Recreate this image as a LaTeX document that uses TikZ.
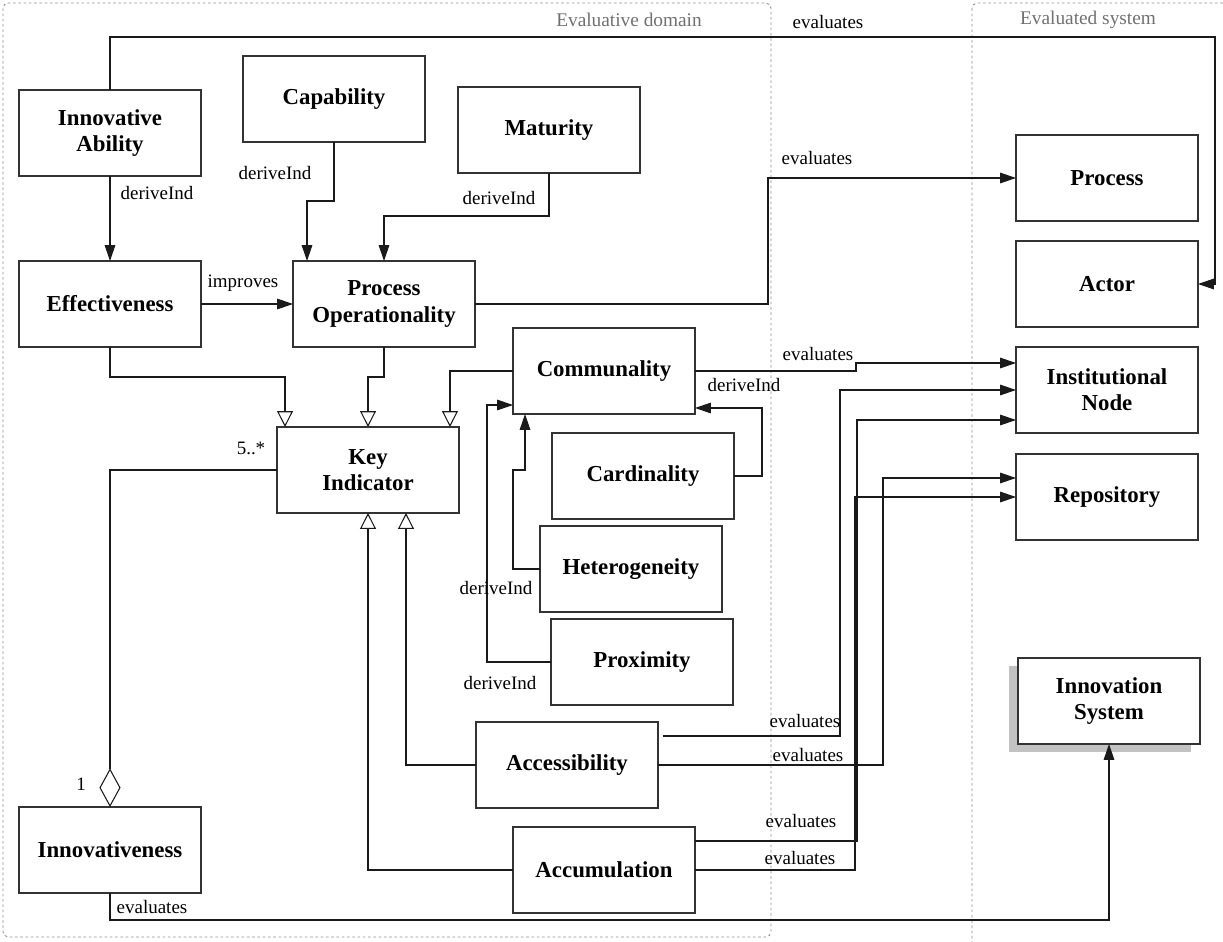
\documentclass[tikz,border=0pt]{standalone}
\usepackage{fontspec}
\setmainfont{Liberation Serif}
\usepackage{tikz}
\usetikzlibrary{calc,arrows.meta,shadows}
\definecolor{ink}{HTML}{1A1A1A}
\definecolor{edge}{HTML}{333333}
\definecolor{muted}{HTML}{707070}
\definecolor{zonegray}{HTML}{909090}
\definecolor{shadowgray}{HTML}{C2C2C2}
\tikzset{
  box/.style={draw=edge, line width=0.8pt, fill=white, minimum width=3.64cm, minimum height=1.72cm,
    inner sep=0pt, outer sep=0pt, align=center, font=\fontsize{13}{15}\selectfont\bfseries},
  sysshadow/.style={drop shadow={shadow xshift=-5pt, shadow yshift=-4.5pt, fill=shadowgray, opacity=1}},
  conn/.style={draw=ink, line width=0.6pt},
  dep/.style={conn, -{Triangle[length=9pt,width=6pt]}},
  gen/.style={conn, -{Triangle[open,length=9pt,width=9pt]}},
  agg/.style={conn, -{Diamond[open,length=22pt,width=12pt]}},
  zone/.style={draw=zonegray, line width=0.5pt, dash pattern=on 1.5pt off 1.5pt, rounded corners=3pt},
  lab/.style={text=black, font=\fontsize{10.8}{12}\selectfont, inner sep=1pt},
  zonelab/.style={text=muted, font=\fontsize{11}{13}\selectfont, inner sep=1pt},
}
\begin{document}
\begin{tikzpicture}[x=0.02cm,y=-0.02cm]
\useasboundingbox (0,0) rectangle (1223,942);
\clip (0,0) rectangle (1223,942);
\draw[zone] (3,3) rectangle (771,937);
\draw[zone] (972,3) rectangle (1260,980);
\node[zonelab] (domlab) at (629,20) {Evaluative domain};
\node[zonelab] (syslab) at (1088,20) {Evaluated system};

\node[box] (ia) at (110,133) {Innovative\\Ability};
\node[box] (cap) at (334,99) {Capability};
\node[box] (mat) at (549,130) {Maturity};
\node[box] (eff) at (110,304) {Effectiveness};
\node[box] (po) at (384,304) {Process\\Operationality};
\node[box] (comm) at (604,371) {Communality};
\node[box] (ki) at (368,470) {Key\\Indicator};
\node[box] (card) at (643,476) {Cardinality};
\node[box] (het) at (631,569) {Heterogeneity};
\node[box] (prox) at (642,662) {Proximity};
\node[box] (acc) at (567,765) {Accessibility};
\node[box] (accu) at (604,870) {Accumulation};
\node[box] (innov) at (110,850) {Innovativeness};
\node[box] (proc) at (1107,178) {Process};
\node[box] (actor) at (1107,284) {Actor};
\node[box] (inst) at (1107,390) {Institutional\\Node};
\node[box] (repo) at (1107,497) {Repository};
\node[box, sysshadow] (insys) at (1109,701) {Innovation\\System};

\draw[dep] (ia.north) |- (1215,37) |- (actor.east);
\draw[dep] (ia) -- (eff);
\draw[dep] (cap.south) -- ++(0,59) -| ($(po.north west)+(14,0)$);
\draw[dep] (mat.south) -- ++(0,43) -| (po.north);
\draw[dep] (eff) -- (po);
\draw[dep] (po.east) -- ++(293,0) |- (proc.west);

\draw[gen] (eff.south) -- ++(0,30) -| ($(ki.north west)+(8,0)$);
\draw[gen] (po.south) -- ++(0,30) -| (ki.north);
\draw[gen] (comm.west) -| ($(ki.north east)+(-9,0)$);
\draw[gen] (acc.west) -| ($(ki.south)+(38,0)$);
\draw[gen] (accu.west) -| (ki.south);
\draw[agg] (ki.west) -| (innov.north);

\draw[dep] (comm.east) -- ++(161,0) |- ($(inst.west)+(0,-27)$);
\draw[dep] (card.east) -- ++(28,0) |- ($(comm.south east)+(0,-6)$);
\draw[dep] (het.west) -- ++(-27,0) -- ++(0,-99) -| ($(comm.south west)+(12,0)$);
\draw[dep] (prox.west) -- ++(-64,0) |- ($(comm.south west)+(0,-9)$);
\draw[dep] ($(acc.east)+(5,-29)$) -- ++(177,0) |- (inst.west);
\draw[dep] (acc.east) -- ++(225,0) |- ($(repo.west)+(0,-19)$);
\draw[dep] ($(accu.east)+(0,-29)$) -- ++(162,0) |- ($(inst.west)+(0,30)$);
\draw[dep] (accu.east) -- ++(160,0) |- (repo.west);
\draw[dep] (innov.south) -- ++(0,27) -| (insys.south);

\node[lab] (evtop) at (828,22) {evaluates};
\node[lab] (dvia) at (157,193) {deriveInd};
\node[lab] (dvcap) at (275,173) {deriveInd};
\node[lab] (dvmat) at (499,198) {deriveInd};
\node[lab] (imp) at (243,283) {improves};
\node[lab] (evproc) at (817,158) {evaluates};
\node[lab] (mult) at (251,448) {5..*};
\node[lab] (one) at (81,784) {1};
\node[lab] (evcomm) at (818,354) {evaluates};
\node[lab] (dvcard) at (744,385) {deriveInd};
\node[lab] (dvhet) at (496,588) {deriveInd};
\node[lab] (dvprox) at (500,683) {deriveInd};
\node[lab] (evacca) at (805,721) {evaluates};
\node[lab] (evaccb) at (808,755) {evaluates};
\node[lab] (evacua) at (801,821) {evaluates};
\node[lab] (evacub) at (800,858) {evaluates};
\node[lab] (evinnov) at (152,907) {evaluates};
\end{tikzpicture}
\end{document}
